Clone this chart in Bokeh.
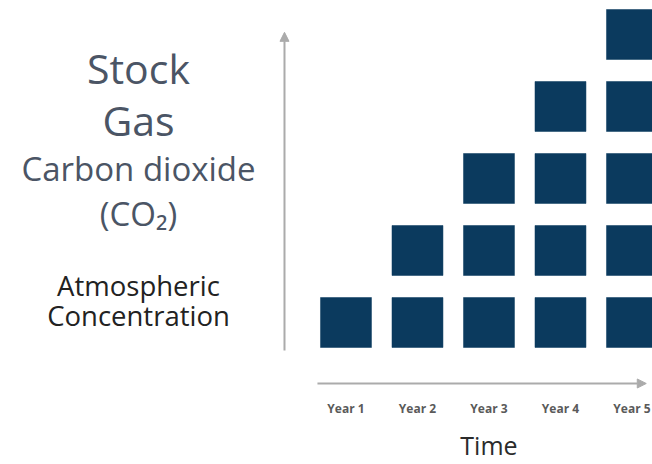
from bokeh.plotting import figure
from bokeh.models import Range1d, Arrow, NormalHead
from bokeh.core.properties import value
from bokeh.embed import file_html
from bokeh.resources import INLINE

# ---- data ----
years = [1, 2, 3, 4, 5]
year_labels = ["Year 1", "Year 2", "Year 3", "Year 4", "Year 5"]
stock_units = [1, 2, 3, 4, 5]   # accumulated units per year

title_lines = ["Stock", "Gas", "Carbon dioxide", "(CO\u2082)"]
axis_lines = ["Atmospheric", "Concentration"]
x_title = "Time"

NAVY = "#0b3a5e"
FONT = "Open Sans"
TITLE_COLOR = "#4b5565"

p = figure(width=652, height=464, output_backend="svg", toolbar_location=None,
           x_range=Range1d(-3.832, 5.287), y_range=Range1d(-0.972, 5.472),
           min_border=0)
p.axis.visible = False
p.grid.visible = False
p.outline_line_color = None
p.background_fill_color = "white"

xs, ys = [], []
for yr, n in zip(years, stock_units):
    for lvl in range(1, n + 1):
        xs.append(yr)
        ys.append(lvl)
p.rect(x=xs, y=ys, width=0.713, height=0.694, fill_color=NAVY, line_color=NAVY, line_width=0.5)

# axes arrows
gray = "#ababab"
p.add_layout(Arrow(end=NormalHead(size=9, fill_color=gray, line_color=gray),
                   x_start=0.14, y_start=0.611, x_end=0.14, y_end=5.03,
                   line_color=gray, line_width=2))
p.add_layout(Arrow(end=NormalHead(size=9, fill_color=gray, line_color=gray),
                   x_start=0.601, y_start=0.153, x_end=5.2, y_end=0.153,
                   line_color=gray, line_width=2))

# tick labels
p.text(x=years, y=[-0.194] * len(years), text=year_labels, text_font=value(FONT),
       text_font_size="12px", text_color="#5a5a5a", text_align="center",
       text_baseline="middle", text_font_style="bold")
p.text(x=[3], y=[-0.708], text=[x_title], text_font=value(FONT), text_font_size="25px",
       text_color="#2b2b2b", text_align="center", text_baseline="middle")

# left labels
lx = -1.902
p.text(x=[lx, lx], y=[4.528, 3.806], text=title_lines[:2], text_font=value(FONT),
       text_font_size="41px", text_color=TITLE_COLOR, text_align="center", text_baseline="middle")
p.text(x=[lx, lx], y=[3.139, 2.514], text=title_lines[2:], text_font=value(FONT),
       text_font_size="33px", text_color=TITLE_COLOR, text_align="center", text_baseline="middle")
p.text(x=[lx, lx], y=[1.514, 1.097], text=axis_lines, text_font=value(FONT),
       text_font_size="27.5px", text_color="#222222", text_align="center", text_baseline="middle")

open("out.html", "w").write(file_html(p, INLINE))
